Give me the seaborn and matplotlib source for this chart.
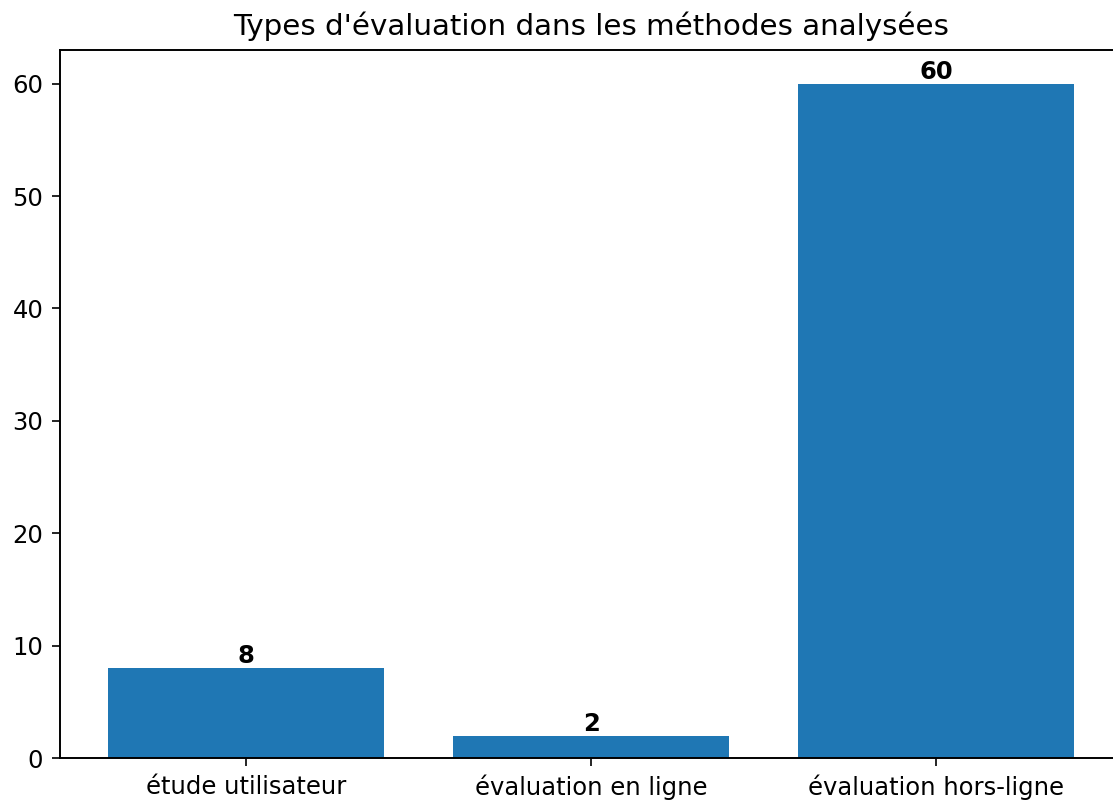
import matplotlib
matplotlib.use("Agg")
import matplotlib.pyplot as plt
import seaborn as sns
import pandas as pd

categories = ["étude utilisateur", "évaluation en ligne", "évaluation hors-ligne"]
counts = [8, 2, 60]

sns.set_style("ticks", {"text.color": "black", "axes.labelcolor": "black",
                        "xtick.color": "black", "ytick.color": "black",
                        "axes.edgecolor": "black"})
plt.rcParams['font.family'] = ['DejaVu Sans']

df = pd.DataFrame({"type": categories, "n": counts})

fig = plt.figure(figsize=(11.13, 8), dpi=100)
ax = fig.add_axes([60/1113, 42/800, 1062.6/1113, 708/800])
sns.barplot(data=df, x="type", y="n", color="#1f77b4", saturation=1, width=0.8,
            linewidth=0, ax=ax)
ax.set_xlim(-0.54, 2.54)
ax.set_ylim(0, 63)
for c in ax.containers:
    ax.bar_label(c, fontsize=17.5, fontweight="bold", padding=0, color="black")
ax.set_xlabel("")
ax.set_ylabel("")
ax.set_title("Types d'évaluation dans les méthodes analysées", fontsize=21.2, pad=11, color="black")
ax.tick_params(labelsize=17.5, length=6, width=1.2, pad=6, colors="black")
for s in ax.spines.values():
    s.set_linewidth(1.4)
    s.set_visible(True)
    s.set_color("black")
fig.savefig("out.png", dpi=100)
